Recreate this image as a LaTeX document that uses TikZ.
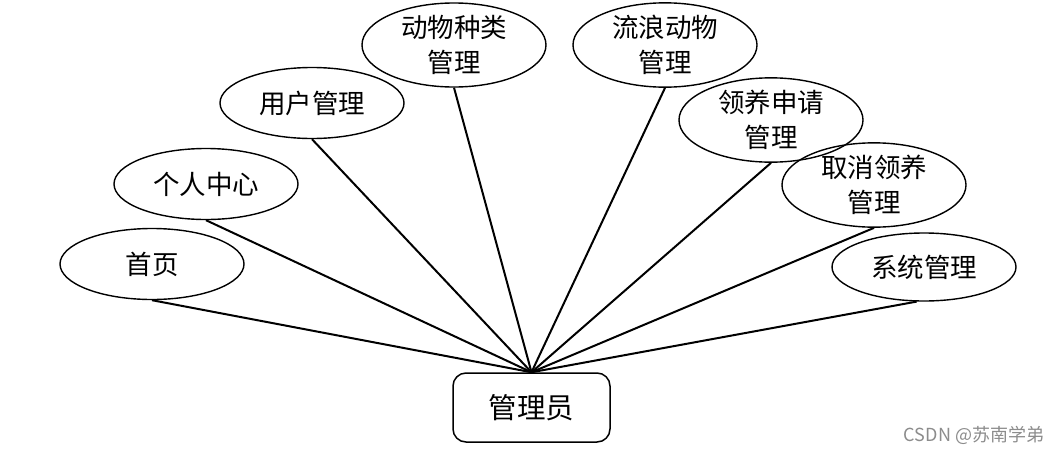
\documentclass[tikz,border=0pt]{standalone}
\usepackage{fontspec}
\setmainfont{Noto Sans CJK SC}
\newfontfamily\wmfont{Noto Sans CJK SC}
\usetikzlibrary{shapes.geometric}
\begin{document}
\begin{tikzpicture}[x=1pt,y=-1pt,
  func/.style={draw=black,line width=1.4pt,ellipse,inner sep=0pt,
    minimum width=184pt,minimum height=71pt,align=center,
    font=\fontsize{26.5}{35}\selectfont},
  admin/.style={draw=black,line width=1.5pt,rounded corners=13pt,
    minimum width=157pt,minimum height=69pt,inner sep=0pt,
    font=\fontsize{28.5}{32}\selectfont},
  link/.style={draw=black,line width=2pt},
  wm/.style={text=black!45,font=\wmfont\fontsize{18}{20}\selectfont,inner sep=0pt}]
\useasboundingbox (0,0) rectangle (1057,453);
\fill[white] (0,0) rectangle (1057,453);
\node[func] (home) at (152,264) {首页};
\node[func] (center) at (206,184) {个人中心};
\node[func] (user) at (312,103) {用户管理};
\node[func] (kind) at (454,45) {动物种类\\管理};
\node[func] (stray) at (665,45) {流浪动物\\管理};
\node[func] (adopt) at (771,120) {领养申请\\管理};
\node[func,minimum height=67pt] (cancel) at (874,185) {取消领养\\管理};
\node[func,minimum height=68pt] (sys) at (924,267) {系统管理};
\node[admin] (adm) at (531.5,407.5) {管理员};
\foreach \n in {home,center,user,kind,stray,adopt,cancel}
  \draw[link] (\n.south) -- (adm.north);
\draw[link] (sys.258) -- (adm.north);
\node[wm] (mark) at (974,435) {CSDN @苏南学弟};
\end{tikzpicture}
\end{document}
